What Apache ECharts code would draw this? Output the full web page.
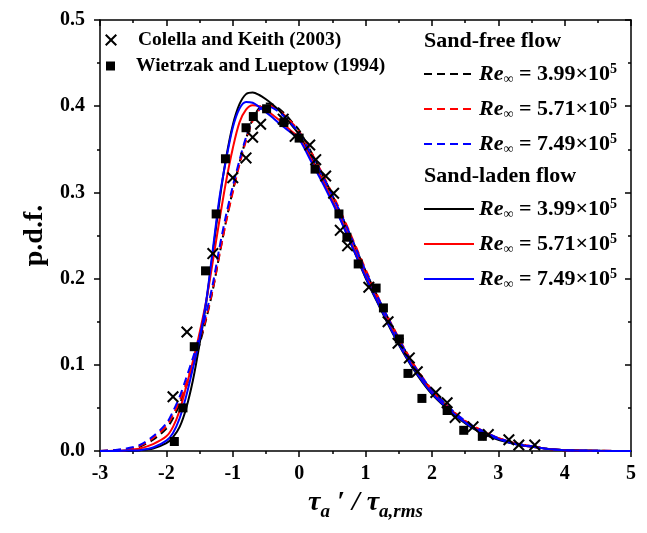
<!DOCTYPE html>
<html>
<head>
<meta charset="utf-8">
<script src="https://cdn.jsdelivr.net/npm/echarts@6/dist/echarts.min.js"></script>
<style>html,body{margin:0;padding:0;background:#fff}#c{width:647px;height:533px}</style>
</head>
<body>
<div id="c"></div>
<script>
const xs = [-3.0,-2.8,-2.6,-2.4,-2.2,-2.0,-1.9,-1.8,-1.7,-1.6,-1.5,-1.4,-1.3,-1.2,-1.1,-1.0,-0.9,-0.8,-0.7,-0.6,-0.5,-0.4,-0.3,-0.2,-0.1,0.0,0.2,0.4,0.6,0.8,1.0,1.2,1.4,1.6,1.8,2.0,2.2,2.4,2.6,2.8,3.0,3.2,3.4,3.6,3.8,4.0,4.5,5.0];

const freeRe399 = [0,0.0005,0.002,0.005,0.013,0.026,0.038,0.054,0.075,0.098,0.124,0.153,0.187,0.228,0.267,0.302,0.334,0.362,0.385,0.398,0.403,0.402,0.397,0.390,0.381,0.372,0.344,0.313,0.280,0.245,0.209,0.176,0.145,0.116,0.091,0.070,0.054,0.040,0.029,0.021,0.015,0.010,0.006,0.004,0.002,0.001,0.0003,0];
const freeRe571 = [0,0.001,0.002,0.006,0.015,0.029,0.042,0.058,0.079,0.102,0.127,0.155,0.188,0.228,0.266,0.300,0.332,0.360,0.383,0.396,0.401,0.400,0.395,0.388,0.380,0.371,0.344,0.314,0.282,0.247,0.211,0.177,0.146,0.117,0.092,0.071,0.055,0.041,0.030,0.022,0.015,0.010,0.007,0.004,0.002,0.001,0.0003,0];
const freeRe749 = [0,0.001,0.003,0.007,0.017,0.032,0.046,0.063,0.085,0.108,0.133,0.160,0.194,0.236,0.274,0.307,0.337,0.364,0.385,0.396,0.400,0.398,0.393,0.386,0.378,0.369,0.342,0.312,0.280,0.245,0.209,0.176,0.145,0.116,0.091,0.071,0.055,0.041,0.030,0.022,0.015,0.010,0.007,0.004,0.002,0.001,0.0003,0];
const ladenRe399 = [0,0,0.0003,0.001,0.003,0.009,0.016,0.028,0.050,0.082,0.124,0.172,0.230,0.290,0.340,0.378,0.402,0.414,0.416,0.413,0.408,0.402,0.395,0.386,0.377,0.367,0.338,0.307,0.273,0.237,0.201,0.169,0.138,0.110,0.086,0.066,0.051,0.038,0.027,0.019,0.013,0.009,0.006,0.004,0.002,0.001,0.0002,0];
const ladenRe571 = [0,0.0003,0.001,0.003,0.008,0.017,0.028,0.047,0.075,0.104,0.137,0.174,0.220,0.268,0.313,0.351,0.381,0.396,0.401,0.400,0.396,0.390,0.384,0.377,0.370,0.364,0.336,0.307,0.275,0.240,0.205,0.172,0.141,0.113,0.089,0.069,0.053,0.040,0.029,0.021,0.015,0.010,0.006,0.004,0.002,0.001,0.0003,0];
const ladenRe749 = [0,0,0.0005,0.001,0.004,0.012,0.021,0.038,0.064,0.096,0.130,0.174,0.234,0.294,0.338,0.375,0.397,0.405,0.404,0.399,0.393,0.387,0.380,0.374,0.368,0.362,0.333,0.304,0.272,0.237,0.202,0.170,0.139,0.111,0.087,0.067,0.052,0.039,0.028,0.020,0.014,0.009,0.006,0.004,0.002,0.001,0.0003,0];

const colellaX = [-1.90,-1.69,-1.30,-1.00,-0.80,-0.70,-0.58,-0.24,-0.06,0.16,0.25,0.40,0.52,0.62,0.73,1.05,1.34,1.49,1.66,1.78,2.06,2.23,2.35,2.62,2.85,3.16,3.31,3.55];
const colellaY = [0.063,0.138,0.229,0.317,0.340,0.364,0.379,0.385,0.365,0.355,0.338,0.319,0.299,0.256,0.238,0.190,0.150,0.125,0.108,0.092,0.068,0.056,0.039,0.028,0.019,0.013,0.007,0.007];
const wietrzakX = [-1.88,-1.75,-1.58,-1.41,-1.25,-1.11,-0.80,-0.69,-0.49,-0.23,0.0,0.24,0.60,0.72,0.89,1.16,1.27,1.51,1.64,1.85,2.23,2.48,2.76];
const wietrzakY = [0.011,0.050,0.121,0.209,0.275,0.339,0.375,0.388,0.397,0.381,0.363,0.327,0.275,0.248,0.217,0.189,0.166,0.130,0.090,0.061,0.047,0.024,0.017];

const xTicks = [-3,-2,-1,0,1,2,3,4,5];
const yTicks = [0.0,0.1,0.2,0.3,0.4,0.5];

const FONT = 'Liberation Serif';
const legendLabels = {
  free399: '3.99', free571: '5.71', free749: '7.49',
  laden399: '3.99', laden571: '5.71', laden749: '7.49'
};
const richRe = {
  i: {fontFamily: FONT, fontStyle: 'italic', fontWeight: 'bold', fontSize: 22, color: '#000', lineHeight: 24},
  s: {fontFamily: FONT, fontStyle: 'italic', fontWeight: 'bold', fontSize: 14, color: '#000', verticalAlign: 'bottom', lineHeight: 24},
  n: {fontFamily: FONT, fontWeight: 'bold', fontSize: 22, color: '#000', lineHeight: 24},
  p: {fontFamily: FONT, fontWeight: 'bold', fontSize: 14, color: '#000', verticalAlign: 'top', lineHeight: 24}
};
function reFmt(name) { return '{i|Re}{s|∞}{n| = ' + legendLabels[name] + '×10}{p|5}'; }

function lineSeries(name, arr, color, dashed) {
  return {
    name: name, type: 'line', xAxisIndex: 0, yAxisIndex: 0,
    data: xs.map((x, i) => [x, arr[i]]),
    showSymbol: false, symbol: 'none', smooth: 0.3,
    lineStyle: {color: color, width: 2, type: dashed ? [8, 5] : 'solid'},
    itemStyle: {color: color},
    z: 2
  };
}
const crossPath = 'path://M0,1.2L1.2,0L5,3.8L8.8,0L10,1.2L6.2,5L10,8.8L8.8,10L5,6.2L1.2,10L0,8.8L3.8,5Z';
const squarePath = 'path://M0,0L10,0L10,10L0,10Z';

const axisCommon = {
  type: 'value',
  axisLine: {show: true, onZero: false, lineStyle: {color: '#000', width: 1.5}},
  splitLine: {show: false}
};
const legendText = {fontFamily: FONT, fontWeight: 'bold', fontSize: 19.5, color: '#000', lineHeight: 22, padding: [0, 0, 0, 16]};

const option = {
  animation: false,
  backgroundColor: '#fff',
  grid: {left: 100, right: 16, top: 20, bottom: 82, containLabel: false},
  xAxis: [
    Object.assign({}, axisCommon, {
      min: -3, max: 5, interval: 1, position: 'bottom',
      axisTick: {show: true, inside: false, length: 6, lineStyle: {color: '#000', width: 1.5}},
      minorTick: {show: true, splitNumber: 2, length: 3, lineStyle: {color: '#000', width: 1.5}},
      axisLabel: {color: '#000', fontFamily: FONT, fontWeight: 'bold', fontSize: 20, margin: 13,
        formatter: v => (xTicks.indexOf(v) >= 0 ? String(v) : '')},
      name: '{t|τ}{s|a}{t| ′ / τ}{s|a,rms}',
      nameLocation: 'middle', nameGap: 26,
      nameTextStyle: {rich: {
        t: {fontFamily: FONT, fontStyle: 'italic', fontWeight: 'bold', fontSize: 28, color: '#000', lineHeight: 30},
        s: {fontFamily: FONT, fontStyle: 'italic', fontWeight: 'bold', fontSize: 19, color: '#000', verticalAlign: 'bottom', lineHeight: 38}
      }}
    }),
    Object.assign({}, axisCommon, {
      min: -3, max: 5, interval: 1, position: 'top',
      axisTick: {show: true, inside: true, length: 6, lineStyle: {color: '#000', width: 1.5}},
      minorTick: {show: true, splitNumber: 2, length: 3, lineStyle: {color: '#000', width: 1.5}},
      axisLabel: {show: false}
    })
  ],
  yAxis: [
    Object.assign({}, axisCommon, {
      min: 0, max: 0.5, interval: 0.1, position: 'left',
      axisTick: {show: true, inside: false, length: 6, lineStyle: {color: '#000', width: 1.5}},
      minorTick: {show: true, splitNumber: 2, length: 3, lineStyle: {color: '#000', width: 1.5}},
      axisLabel: {color: '#000', fontFamily: FONT, fontWeight: 'bold', fontSize: 20, margin: 15,
        formatter: v => v.toFixed(1)},
      name: 'p.d.f.', nameLocation: 'middle', nameGap: 43,
      nameTextStyle: {fontFamily: FONT, fontWeight: 'bold', fontSize: 28, color: '#000'}
    }),
    Object.assign({}, axisCommon, {
      min: 0, max: 0.5, interval: 0.1, position: 'right',
      axisTick: {show: true, inside: true, length: 6, lineStyle: {color: '#000', width: 1.5}},
      minorTick: {show: true, splitNumber: 2, length: 3, lineStyle: {color: '#000', width: 1.5}},
      axisLabel: {show: false}
    })
  ],
  legend: [
    {data: ['Colella and Keith (2003)'], orient: 'vertical', left: 105, top: 29, padding: 0,
      itemWidth: 12, itemHeight: 12, textStyle: legendText},
    {data: ['Wietrzak and Lueptow (1994)'], orient: 'vertical', left: 106, top: 55, padding: 0,
      itemWidth: 9, itemHeight: 9, textStyle: legendText},
    {data: ['free399', 'free571', 'free749'], orient: 'vertical', left: 418, top: 57, itemWidth: 50, itemHeight: 14, itemGap: 11,
      itemStyle: {opacity: 0}, formatter: reFmt, textStyle: {rich: richRe, lineHeight: 24}},
    {data: ['laden399', 'laden571', 'laden749'], orient: 'vertical', left: 418, top: 192, itemWidth: 50, itemHeight: 14, itemGap: 11,
      itemStyle: {opacity: 0}, formatter: reFmt, textStyle: {rich: richRe, lineHeight: 24}}
  ],
  graphic: [
    {type: 'text', left: 424, top: 30, style: {text: 'Sand-free flow', fontFamily: FONT, fontWeight: 'bold', fontSize: 22, fill: '#000'}},
    {type: 'text', left: 424, top: 165, style: {text: 'Sand-laden flow', fontFamily: FONT, fontWeight: 'bold', fontSize: 22, fill: '#000'}}
  ],
  series: [
    lineSeries('free399', freeRe399, '#000000', true),
    lineSeries('free571', freeRe571, '#ff0000', true),
    lineSeries('laden399', ladenRe399, '#000000', false),
    lineSeries('laden571', ladenRe571, '#ff0000', false),
    lineSeries('laden749', ladenRe749, '#0000ff', false),
    lineSeries('free749', freeRe749, '#0000ff', true),
    {
      name: 'Colella and Keith (2003)', type: 'scatter', xAxisIndex: 0, yAxisIndex: 0,
      data: colellaX.map((x, i) => [x, colellaY[i]]),
      symbol: crossPath, symbolSize: 12,
      itemStyle: {color: '#000', opacity: 1}, z: 5
    },
    {
      name: 'Wietrzak and Lueptow (1994)', type: 'scatter', xAxisIndex: 0, yAxisIndex: 0,
      data: wietrzakX.map((x, i) => [x, wietrzakY[i]]),
      symbol: squarePath, symbolSize: 9,
      itemStyle: {color: '#000', opacity: 1}, z: 5
    }
  ]
};
const chart = echarts.init(document.getElementById('c'), null, {renderer: 'canvas'});
chart.setOption(option);
</script>
</body>
</html>
